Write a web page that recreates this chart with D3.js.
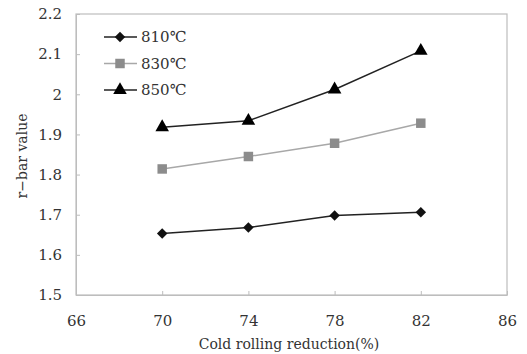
<!DOCTYPE html>
<html>
<head>
<meta charset="utf-8">
<script src="https://cdn.jsdelivr.net/npm/d3@7"></script>
<style>
  body { margin: 0; background: #fff; }
  text { font-family: "DejaVu Serif", "Liberation Serif", serif; fill: #333; }
</style>
</head>
<body>
<svg width="527" height="354"></svg>
<script>
// data
var reduction = [70, 74, 78, 82];
var r810 = [1.653, 1.668, 1.698, 1.706];
var r830 = [1.814, 1.845, 1.878, 1.928];
var r850 = [1.918, 1.934, 2.012, 2.108];
var seriesNames = ["810\u2103", "830\u2103", "850\u2103"];
var xTicks = [66, 70, 74, 78, 82, 86];
var yTicks = [1.5, 1.6, 1.7, 1.8, 1.9, 2, 2.1, 2.2];

var svg = d3.select("svg"),
    plotLeft = 76, plotRight = 507, plotTop = 14, plotBottom = 295;

var x = d3.scaleLinear().domain([66, 86]).range([plotLeft, plotRight]),
    y = d3.scaleLinear().domain([1.5, 2.2]).range([plotBottom, plotTop]);

// frame
svg.append("rect")
    .attr("x", plotLeft).attr("y", plotTop)
    .attr("width", plotRight - plotLeft).attr("height", plotBottom - plotTop)
    .attr("fill", "none").attr("stroke", "#bdbdbd").attr("stroke-width", 1.2);

// axes, ticks pointing inward
var xAxis = svg.append("g")
    .attr("transform", "translate(0," + plotBottom + ")")
    .call(d3.axisBottom(x).tickValues(xTicks).tickSizeInner(-4).tickSizeOuter(0).tickPadding(20));
var yAxis = svg.append("g")
    .attr("transform", "translate(" + plotLeft + ",0)")
    .call(d3.axisLeft(y).tickValues(yTicks).tickFormat(d3.format("")).tickSizeInner(-4).tickSizeOuter(0).tickPadding(14));

[xAxis, yAxis].forEach(function(g) {
    g.select(".domain").attr("stroke", "#bdbdbd");
    g.selectAll(".tick line").attr("stroke", "#bdbdbd");
    g.selectAll(".tick text").style("font-size", "15px").attr("fill", "#333")
        .style("font-family", "'DejaVu Serif', 'Liberation Serif', serif");
});

svg.append("text")
    .attr("x", 289).attr("y", 349)
    .attr("text-anchor", "middle")
    .style("font-size", "14px")
    .text("Cold rolling reduction(%)");

svg.append("text")
    .attr("transform", "translate(27,156) rotate(-90)")
    .attr("text-anchor", "middle")
    .style("font-size", "14px")
    .text("r\u2212bar value");

var series = [
    { name: seriesNames[0], values: r810, line: "#222", fill: "#111", shape: d3.symbolDiamond2, size: 70 },
    { name: seriesNames[1], values: r830, line: "#a8a8a8", fill: "#8c8c8c", shape: d3.symbolSquare, size: 90 },
    { name: seriesNames[2], values: r850, line: "#222", fill: "#000", shape: d3.symbolTriangle, size: 80 }
];

var line = d3.line()
    .x(function(d, i) { return x(reduction[i]); })
    .y(function(d) { return y(d); });

series.forEach(function(s) {
    svg.append("path")
        .attr("d", line(s.values))
        .attr("fill", "none")
        .attr("stroke", s.line)
        .attr("stroke-width", 1.5);
    svg.selectAll(null)
        .data(s.values)
        .enter().append("path")
        .attr("d", d3.symbol().type(s.shape).size(s.size))
        .attr("transform", function(d, i) { return "translate(" + x(reduction[i]) + "," + y(d) + ")"; })
        .attr("fill", s.fill);
});

// legend
var legend = svg.append("g");
series.forEach(function(s, i) {
    var ly = 37 + i * 26.5;
    legend.append("line")
        .attr("x1", 104).attr("x2", 137)
        .attr("y1", ly).attr("y2", ly)
        .attr("stroke", s.line).attr("stroke-width", 1.5);
    legend.append("path")
        .attr("d", d3.symbol().type(s.shape).size(s.size))
        .attr("transform", "translate(120," + ly + ")")
        .attr("fill", s.fill);
    legend.append("text")
        .attr("x", 141).attr("y", ly + 5)
        .style("font-size", "15px")
        .text(s.name);
});
</script>
</body>
</html>
